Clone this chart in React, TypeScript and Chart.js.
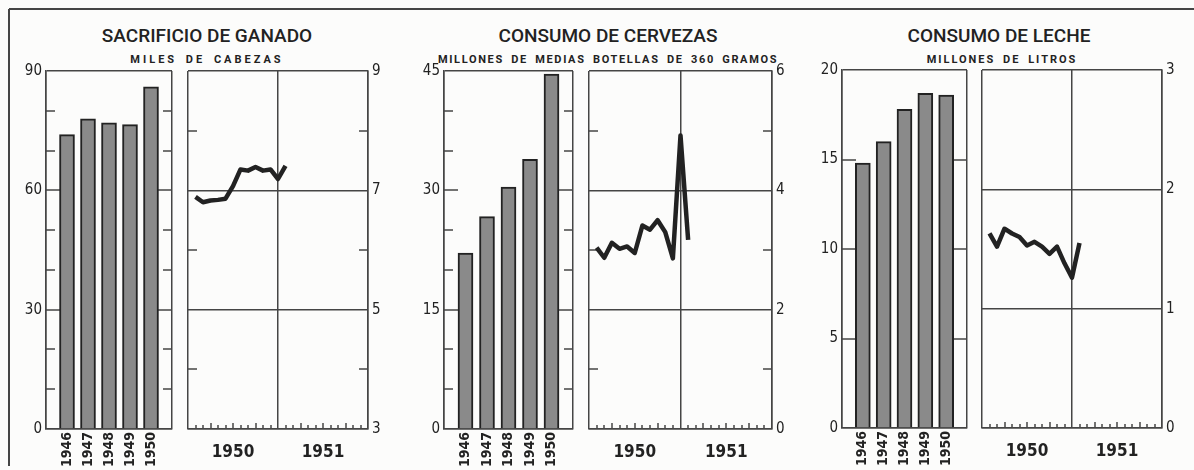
import React, { useEffect, useRef } from 'react';
import { Chart, registerables } from 'chart.js';

Chart.register(...registerables);

// ---------------- data ----------------
const YEARS = [1946, 1947, 1948, 1949, 1950];
// monthly observations, position in months counted from the start of 1950
const MONTHS = [1, 2, 3, 4, 5, 6, 7, 8, 9, 10, 11, 12, 13];
const PERIOD_POS = [6, 18];
const PERIOD_TEXT = ['1950', '1951'];

const GANADO_ANUAL = [74, 78, 77, 76.5, 86];
const GANADO_MENSUAL = [6.89, 6.8, 6.83, 6.84, 6.86, 7.07, 7.35, 7.33, 7.39, 7.33, 7.35, 7.19, 7.41];

const CERVEZA_ANUAL = [22.1, 26.7, 30.4, 33.9, 44.6];
const CERVEZA_MENSUAL = [3.04, 2.87, 3.12, 3.02, 3.06, 2.95, 3.41, 3.34, 3.5, 3.3, 2.86, 4.92, 3.17];

const LECHE_ANUAL = [14.8, 16.0, 17.8, 18.7, 18.6];
const LECHE_MENSUAL = [1.63, 1.52, 1.67, 1.63, 1.6, 1.53, 1.56, 1.52, 1.46, 1.52, 1.38, 1.26, 1.55];

const TITLES = ['SACRIFICIO DE GANADO', 'CONSUMO DE CERVEZAS', 'CONSUMO DE LECHE'];
const SUBTITLES = ['MILES DE CABEZAS', 'MILLONES DE MEDIAS BOTELLAS DE 360 GRAMOS', 'MILLONES DE LITROS'];

// axis ranges: [min, max, labelled step, minor tick step]
const GANADO_BAR_AXIS = [0, 90, 30, 10];
const GANADO_LINE_AXIS = [3, 9, 2, 1];
const CERVEZA_BAR_AXIS = [0, 45, 15, 5];
const CERVEZA_LINE_AXIS = [0, 6, 2, 1];
const LECHE_BAR_AXIS = [0, 20, 5, 5];
const LECHE_LINE_AXIS = [0, 3, 1, 1];

// ---------------- style / layout ----------------
const W = 1194;
const H = 470;
const INK = '#222222';
const FRAME = '#454545';
const BAR_FILL = '#8a8a8a';
const NARROW = "'Liberation Sans Narrow', 'DejaVu Sans Condensed', 'Roboto', sans-serif";

type Geom = { L: number; R: number; T: number; B: number };
const GEOMS: Geom[][] = [
  [{ L: 46, R: 172, T: 71, B: 429 }, { L: 188, R: 368, T: 71, B: 429 }],
  [{ L: 444, R: 573, T: 71, B: 429 }, { L: 589, R: 772, T: 71, B: 429 }],
  [{ L: 842, R: 967, T: 70, B: 428 }, { L: 982, R: 1162, T: 70, B: 428 }],
];
const TITLE_CX = [207, 608, 999];
const SUB_CX = [207, 608, 1002];
const SUB_SPACING = [3, 1.65, 2.0];

const isStep = (v: number, min: number, step: number) =>
  Math.abs((v - min) / step - Math.round((v - min) / step)) < 1e-6;

const innerTicks = {
  id: 'innerTicks',
  beforeDatasetsDraw(chart: any, _args: any, opts: any) {
    const { ctx, chartArea: a, scales } = chart;
    const y = scales.y;
    ctx.save();
    ctx.strokeStyle = FRAME;
    ctx.lineWidth = 1.5;
    ctx.beginPath();
    for (const t of y.ticks) {
      const v = t.value;
      if (v <= y.min || v >= y.max) continue;
      const major = isStep(v, y.min, opts.labelStep);
      if (major && opts.fullMajor) continue;
      const len = major ? opts.majorLen : opts.minorLen;
      const py = Math.round(y.getPixelForValue(v));
      ctx.moveTo(a.left, py);
      ctx.lineTo(a.left + len, py);
      ctx.moveTo(a.right - len, py);
      ctx.lineTo(a.right, py);
    }
    if (opts.monthTicks) {
      const x = scales.x;
      for (const t of x.ticks) {
        const v = t.value;
        if (v <= x.min || v >= x.max || v === 12) continue;
        const px = Math.round(x.getPixelForValue(v));
        const len = v % 3 === 0 ? 6 : 4;
        ctx.moveTo(px, a.bottom);
        ctx.lineTo(px, a.bottom - len);
      }
    }
    ctx.stroke();
    ctx.restore();
  },
};

function barConfig(values: number[], axis: number[], g: Geom): any {
  const [ymin, ymax, lstep, mstep] = axis;
  const YW = 42;
  const XH = 40;
  const xmin = YEARS[0] - 1;
  const xmax = YEARS[YEARS.length - 1] + 1;
  return {
    type: 'bar',
    data: {
      datasets: [
        {
          data: YEARS.map((yr, i) => ({ x: yr, y: values[i] })),
          backgroundColor: BAR_FILL,
          borderColor: INK,
          borderWidth: 2,
          barThickness: 15,
        },
      ],
    },
    options: {
      responsive: false,
      animation: false,
      events: [],
      layout: { padding: { left: g.L - YW, right: W - g.R, top: g.T, bottom: H - g.B - XH } },
      plugins: {
        legend: { display: false },
        tooltip: { enabled: false },
        innerTicks: { labelStep: lstep, majorLen: 14, minorLen: 9, fullMajor: false, monthTicks: false },
      },
      scales: {
        x: {
          type: 'linear',
          offset: false,
          min: xmin,
          max: xmax,
          afterFit: (s: any) => {
            s.height = XH;
          },
          ticks: {
            stepSize: 1,
            autoSkip: false,
            minRotation: 90,
            maxRotation: 90,
            padding: 3,
            color: INK,
            font: { family: NARROW, size: 14, weight: 'bold' },
            callback: (v: number) => (YEARS.includes(v) ? String(v) : ''),
          },
          grid: {
            offset: false,
            drawTicks: false,
            lineWidth: 1.5,
            color: (c: any) =>
              c.tick && (c.tick.value === xmin || c.tick.value === xmax) ? FRAME : 'transparent',
          },
          border: { color: FRAME, width: 1.5 },
        },
        y: {
          type: 'linear',
          position: 'left',
          min: ymin,
          max: ymax,
          afterFit: (s: any) => {
            s.width = YW;
          },
          ticks: {
            stepSize: mstep,
            autoSkip: false,
            padding: 4,
            color: INK,
            font: { family: NARROW, size: 15 },
            callback: (v: number) => (isStep(v, ymin, lstep) ? String(v) : ''),
          },
          grid: {
            drawTicks: false,
            lineWidth: 1.5,
            color: (c: any) =>
              c.tick && (c.tick.value === ymin || c.tick.value === ymax) ? FRAME : 'transparent',
          },
          border: { color: FRAME, width: 1.5 },
        },
      },
    },
    plugins: [innerTicks],
  };
}

function lineConfig(values: number[], axis: number[], g: Geom): any {
  const [ymin, ymax, lstep, mstep] = axis;
  const YW = 24;
  const XH = 41;
  return {
    type: 'line',
    data: {
      datasets: [
        {
          data: MONTHS.map((m, i) => ({ x: m, y: values[i] })),
          borderColor: INK,
          borderWidth: 4.5,
          pointRadius: 0,
          tension: 0,
          borderJoinStyle: 'round',
          fill: false,
        },
      ],
    },
    options: {
      responsive: false,
      animation: false,
      events: [],
      layout: { padding: { left: g.L, right: W - g.R - YW, top: g.T, bottom: H - g.B - XH } },
      plugins: {
        legend: { display: false },
        tooltip: { enabled: false },
        innerTicks: { labelStep: lstep, majorLen: 9, minorLen: 9, fullMajor: true, monthTicks: true },
      },
      scales: {
        x: {
          type: 'linear',
          offset: false,
          min: 0,
          max: 24,
          afterFit: (s: any) => {
            s.height = XH;
          },
          ticks: {
            stepSize: 1,
            autoSkip: false,
            maxRotation: 0,
            minRotation: 0,
            padding: 13,
            color: INK,
            font: { family: NARROW, size: 17, weight: 'bold' },
            callback: (v: number) => {
              const k = PERIOD_POS.indexOf(v);
              return k >= 0 ? PERIOD_TEXT[k] : '';
            },
          },
          grid: {
            drawTicks: false,
            lineWidth: 1.5,
            color: (c: any) => (c.tick && [0, 12, 24].includes(c.tick.value) ? FRAME : 'transparent'),
          },
          border: { color: FRAME, width: 1.5 },
        },
        y: {
          type: 'linear',
          position: 'right',
          min: ymin,
          max: ymax,
          afterFit: (s: any) => {
            s.width = YW;
          },
          ticks: {
            stepSize: mstep,
            autoSkip: false,
            padding: 4,
            color: INK,
            font: { family: NARROW, size: 15 },
            callback: (v: number) => (isStep(v, ymin, lstep) ? String(v) : ''),
          },
          grid: {
            drawTicks: false,
            lineWidth: 1.5,
            color: (c: any) => (c.tick && isStep(c.tick.value, ymin, lstep) ? FRAME : 'transparent'),
          },
          border: { color: FRAME, width: 1.5 },
        },
      },
    },
    plugins: [innerTicks],
  };
}

function Panel({ make }: { make: () => any }) {
  const ref = useRef<HTMLCanvasElement>(null);
  useEffect(() => {
    const chart = new Chart(ref.current as HTMLCanvasElement, make());
    return () => chart.destroy();
  }, []);
  return (
    <canvas
      ref={ref}
      width={W}
      height={H}
      style={{ position: 'absolute', left: 0, top: 0, width: W, height: H }}
    />
  );
}

export default function App() {
  const makers = [
    () => barConfig(GANADO_ANUAL, GANADO_BAR_AXIS, GEOMS[0][0]),
    () => lineConfig(GANADO_MENSUAL, GANADO_LINE_AXIS, GEOMS[0][1]),
    () => barConfig(CERVEZA_ANUAL, CERVEZA_BAR_AXIS, GEOMS[1][0]),
    () => lineConfig(CERVEZA_MENSUAL, CERVEZA_LINE_AXIS, GEOMS[1][1]),
    () => barConfig(LECHE_ANUAL, LECHE_BAR_AXIS, GEOMS[2][0]),
    () => lineConfig(LECHE_MENSUAL, LECHE_LINE_AXIS, GEOMS[2][1]),
  ];
  return (
    <div
      style={{
        position: 'absolute',
        left: 0,
        top: 0,
        width: W,
        height: H,
        overflow: 'hidden',
        background: '#fcfcfb',
      }}
    >
      <div style={{ position: 'absolute', left: 9, top: 8, width: W - 9, height: 0, borderTop: `2px solid ${FRAME}` }} />
      <div style={{ position: 'absolute', left: 8, top: 9, width: 0, height: 457, borderLeft: `2px solid ${FRAME}` }} />
      {TITLES.map((t, i) => (
        <div
          key={'t' + i}
          style={{
            position: 'absolute',
            left: TITLE_CX[i] - 200,
            width: 400,
            top: 26,
            textAlign: 'center',
            fontFamily: 'Roboto, sans-serif',
            fontWeight: 500,
            fontSize: 19,
            lineHeight: '19px',
            color: INK,
            whiteSpace: 'nowrap',
          }}
        >
          {t}
        </div>
      ))}
      {SUBTITLES.map((t, i) => (
        <div
          key={'s' + i}
          style={{
            position: 'absolute',
            left: SUB_CX[i] - 250,
            width: 500,
            top: 54,
            textAlign: 'center',
            fontFamily: 'Roboto, sans-serif',
            fontWeight: 700,
            fontSize: 11,
            lineHeight: '11px',
            letterSpacing: SUB_SPACING[i],
            wordSpacing: 3,
            color: INK,
            whiteSpace: 'nowrap',
          }}
        >
          {t}
        </div>
      ))}
      {makers.map((m, i) => (
        <Panel key={i} make={m} />
      ))}
    </div>
  );
}
